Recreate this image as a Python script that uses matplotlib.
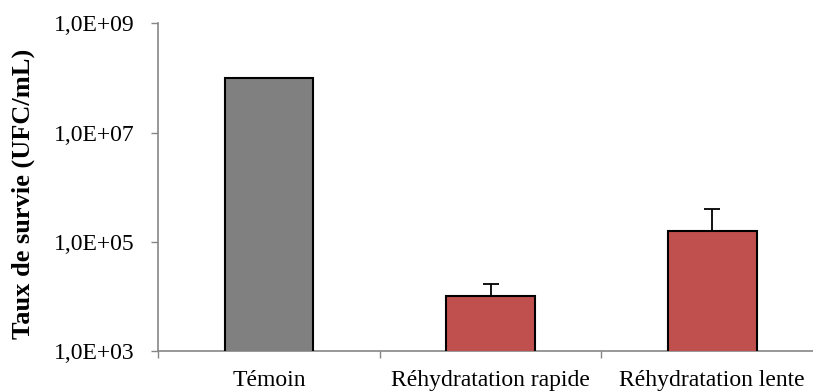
import math
import matplotlib.pyplot as plt
import matplotlib.ticker as mticker

# survival counts (CFU/mL) per treatment
categories = ['Témoin', 'Réhydratation rapide', 'Réhydratation lente']
values = [1.0e8, 1.0e4, 1.6e5]
err_up = [0, 6.6e3, 2.3e5]
colors = ['#808080', '#C0504D', '#C0504D']

plt.rcParams['font.family'] = ['Liberation Serif', 'DejaVu Serif']

fig = plt.figure(figsize=(8.13, 3.92), dpi=100)
ax = fig.add_axes([158/813, 1 - 351/392, 665/813, (351 - 23.3)/392])

x = range(len(categories))
ax.bar(x, values, width=0.4, color=colors, edgecolor='black', linewidth=1.5, zorder=3)
# upper error bars only, skip the control
ax.errorbar([1, 2], values[1:], yerr=[[0, 0], err_up[1:]], fmt='none',
            ecolor='black', elinewidth=1.3, capsize=6, capthick=1.3, zorder=4)

ax.set_yscale('log')
ax.set_ylim(1e3, 1e9)
ax.set_xlim(-0.5, 2.5)
ax.yaxis.set_major_locator(mticker.FixedLocator([1e3, 1e5, 1e7, 1e9]))
ax.yaxis.set_minor_locator(mticker.NullLocator())
ax.yaxis.set_major_formatter(mticker.FuncFormatter(
    lambda v, p: '1,0E+%02d' % round(math.log10(v))))

ax.set_xticks([0, 1, 2])
ax.set_xticklabels(categories, fontsize=17)
ax.set_xticks([-0.5, 0.5, 1.5, 2.5], minor=True)
ax.tick_params(axis='x', which='major', length=0, pad=14)
ax.tick_params(axis='x', which='minor', length=5, color='#868686', width=1)
ax.tick_params(axis='y', which='major', length=5, color='#868686', width=1,
               labelsize=17, pad=12)

for s in ['top', 'right']:
    ax.spines[s].set_visible(False)
for s in ['left', 'bottom']:
    ax.spines[s].set_color('#868686')
    ax.spines[s].set_linewidth(1.2)

ax.set_ylabel('Taux de survie (UFC/mL)', fontsize=19, fontweight='bold')
ax.yaxis.set_label_coords(-0.185, 0.48)

fig.savefig('out.png', dpi=100)
